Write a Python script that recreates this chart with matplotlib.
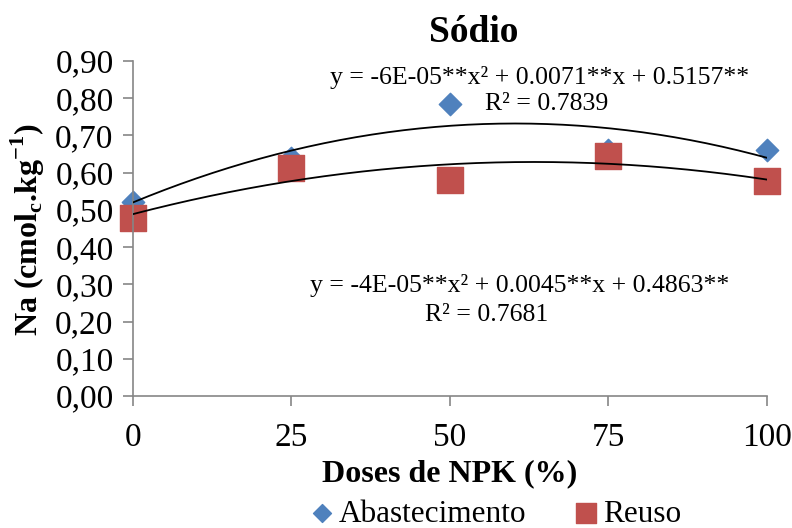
import numpy as np
import matplotlib
matplotlib.use("Agg")
import matplotlib.pyplot as plt

doses = [0, 25, 50, 75, 100]
abastecimento = [0.52, 0.64, 0.785, 0.66, 0.66]
reuso = [0.478, 0.613, 0.58, 0.645, 0.578]
yticks = [0.0, 0.1, 0.2, 0.3, 0.4, 0.5, 0.6, 0.7, 0.8, 0.9]
ytick_labels = ["0,00", "0,10", "0,20", "0,30", "0,40", "0,50", "0,60", "0,70", "0,80", "0,90"]
eq_abast = "y = -6E-05**x² + 0.0071**x + 0.5157**"
r2_abast = "R² = 0.7839"
eq_reuso = "y = -4E-05**x² + 0.0045**x + 0.4863**"
r2_reuso = "R² = 0.7681"

plt.rcParams['font.family'] = ['Liberation Serif', 'DejaVu Serif']
plt.rcParams['mathtext.fontset'] = 'custom'
plt.rcParams['mathtext.rm'] = 'Liberation Serif'
plt.rcParams['mathtext.bf'] = 'Liberation Serif:bold'

fig = plt.figure(figsize=(7.92, 5.28), dpi=100)
ax = fig.add_axes([0.168, 0.25, 0.8, 0.6345])

blue = '#4F81BD'
red = '#C0504D'
xs = np.linspace(0, 100, 200)
for yv in (abastecimento, reuso):
    c = np.polyfit(doses, yv, 2)
    ax.plot(xs, np.polyval(c, xs), color='black', lw=1.3, zorder=3)

ax.scatter(doses, abastecimento, marker='D', s=130, color=blue, zorder=2, label='Abastecimento')
ax.scatter(doses, reuso, marker='s', s=330, color=red, zorder=2, label='Reuso')

ax.set_xlim(0, 100)
ax.set_ylim(0, 0.9)
ax.set_xticks(doses)
ax.set_xticklabels([str(d) for d in doses])
ax.set_yticks(yticks)
ax.set_yticklabels(ytick_labels)
for s in ['top', 'right']:
    ax.spines[s].set_visible(False)
for s in ['left', 'bottom']:
    ax.spines[s].set_color('#868686')
    ax.spines[s].set_linewidth(1.2)
ax.tick_params(axis='both', labelsize=24, color='#868686', length=7, width=1.2)
ax.tick_params(axis='y', pad=7)
ax.tick_params(axis='x', pad=12)
for coll in ax.collections:
    coll.set_clip_on(False)

fig.text(0.5985, 1 - 32 / 528, 'Sódio', fontsize=27, fontweight='bold', ha='center', va='center')
fig.text(0.568, 1 - 474 / 528, 'Doses de NPK (%)', fontsize=23, fontweight='bold', ha='center', va='center')
fig.text(28 / 792, 1 - 230 / 528, r'Na (cmol$_{\mathbf{c}}$.kg$^{\mathbf{-1}}$)', fontsize=23,
         fontweight='bold', rotation=90, ha='center', va='center')

ax.text(0.642, 0.952, eq_abast, transform=ax.transAxes, fontsize=18.5, ha='center', va='center')
ax.text(0.555, 0.872, r2_abast, transform=ax.transAxes, fontsize=18.5, ha='left', va='center')
ax.text(0.61, 0.331, eq_reuso, transform=ax.transAxes, fontsize=18.5, ha='center', va='center')
ax.text(0.558, 0.242, r2_reuso, transform=ax.transAxes, fontsize=18.5, ha='center', va='center')

fig.legend(loc='center', bbox_to_anchor=(0.6255, 1 - 514 / 528), ncol=2, frameon=False,
           fontsize=22.5, handlelength=0.8, handletextpad=0.15, columnspacing=1.5,
           markerscale=0.8, borderpad=0, borderaxespad=0)

fig.savefig('out.png', dpi=100)
